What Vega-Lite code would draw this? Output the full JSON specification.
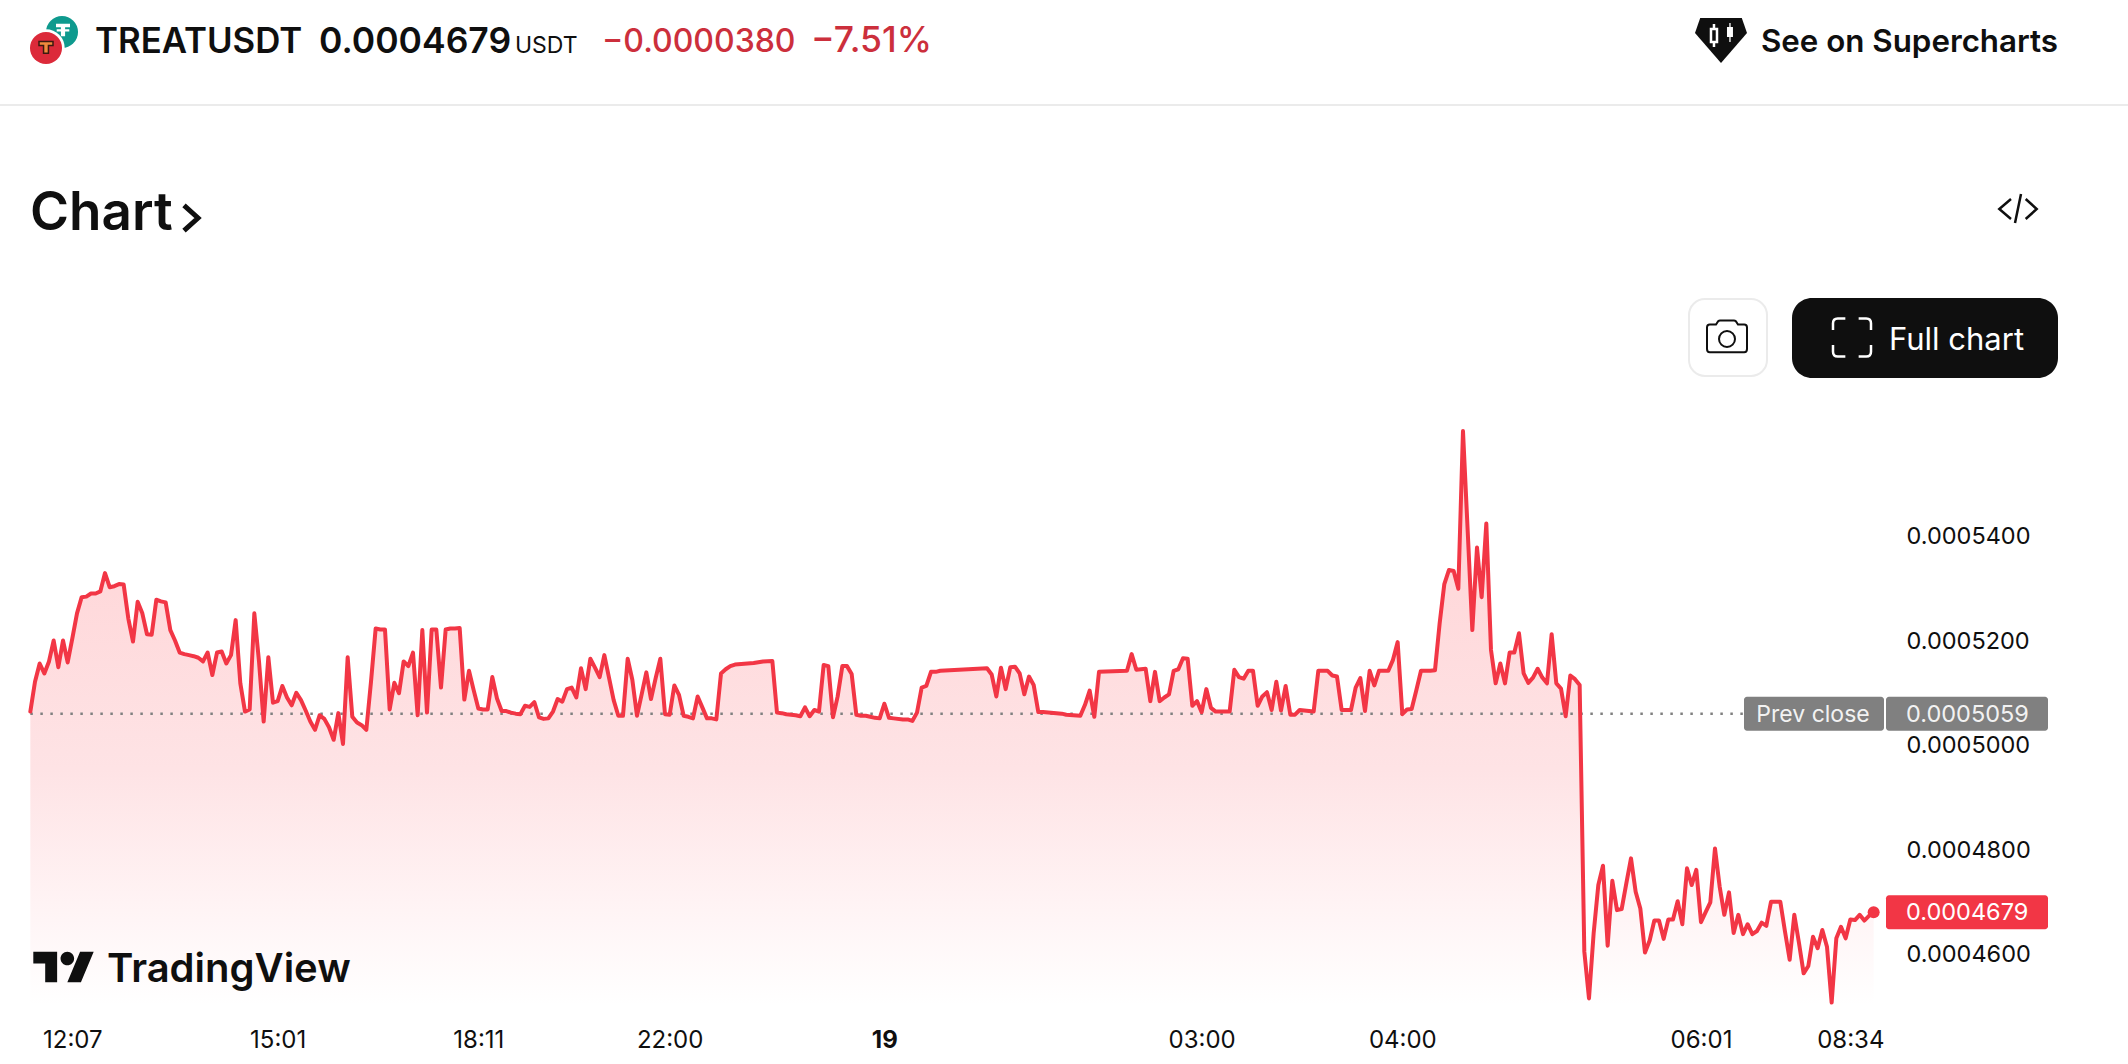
{"$schema":"https://vega.github.io/schema/vega-lite/v6.json","width":1880,"height":1005,"autosize":{"type":"none"},"padding":{"left":0,"top":0,"right":248,"bottom":59},"background":"#ffffff","view":{"stroke":null},"config":{"font":"Inter","text":{"font":"Inter"}},
"datasets":{"prices":[{"bar":0,"price":0.0005063},{"bar":1,"price":0.000512},{"bar":2,"price":0.0005155},{"bar":3,"price":0.0005136},{"bar":4,"price":0.0005159},{"bar":5,"price":0.0005199},{"bar":6,"price":0.0005148},{"bar":7,"price":0.0005199},{"bar":8,"price":0.0005157},{"bar":9,"price":0.0005203},{"bar":10,"price":0.0005251},{"bar":11,"price":0.0005282},{"bar":12,"price":0.0005283},{"bar":13,"price":0.0005289},{"bar":14,"price":0.0005289},{"bar":15,"price":0.0005293},{"bar":16,"price":0.0005328},{"bar":17,"price":0.0005301},{"bar":18,"price":0.0005303},{"bar":19,"price":0.0005307},{"bar":20,"price":0.0005306},{"bar":21,"price":0.0005241},{"bar":22,"price":0.0005197},{"bar":23,"price":0.0005273},{"bar":24,"price":0.0005251},{"bar":25,"price":0.0005211},{"bar":26,"price":0.000521},{"bar":27,"price":0.0005277},{"bar":28,"price":0.0005274},{"bar":29,"price":0.0005272},{"bar":30,"price":0.0005219},{"bar":31,"price":0.0005199},{"bar":32,"price":0.0005176},{"bar":33,"price":0.0005173},{"bar":34,"price":0.0005171},{"bar":35,"price":0.0005169},{"bar":36,"price":0.0005166},{"bar":37,"price":0.0005159},{"bar":38,"price":0.0005176},{"bar":39,"price":0.0005133},{"bar":40,"price":0.0005176},{"bar":41,"price":0.0005178},{"bar":42,"price":0.0005155},{"bar":43,"price":0.0005171},{"bar":44,"price":0.0005238},{"bar":45,"price":0.0005117},{"bar":46,"price":0.0005063},{"bar":47,"price":0.0005067},{"bar":48,"price":0.0005251},{"bar":49,"price":0.0005159},{"bar":50,"price":0.0005044},{"bar":51,"price":0.0005167},{"bar":52,"price":0.000508},{"bar":53,"price":0.0005083},{"bar":54,"price":0.0005112},{"bar":55,"price":0.000509},{"bar":56,"price":0.0005075},{"bar":57,"price":0.0005099},{"bar":58,"price":0.0005085},{"bar":59,"price":0.0005065},{"bar":60,"price":0.0005044},{"bar":61,"price":0.0005028},{"bar":62,"price":0.0005056},{"bar":63,"price":0.0005049},{"bar":64,"price":0.0005033},{"bar":65,"price":0.0005009},{"bar":66,"price":0.000506},{"bar":67,"price":0.0005001},{"bar":68,"price":0.0005167},{"bar":69,"price":0.0005053},{"bar":70,"price":0.0005042},{"bar":71,"price":0.0005037},{"bar":72,"price":0.0005028},{"bar":73,"price":0.000512},{"bar":74,"price":0.0005222},{"bar":75,"price":0.000522},{"bar":76,"price":0.000522},{"bar":77,"price":0.0005067},{"bar":78,"price":0.0005118},{"bar":79,"price":0.0005098},{"bar":80,"price":0.0005159},{"bar":81,"price":0.000515},{"bar":82,"price":0.0005176},{"bar":83,"price":0.0005056},{"bar":84,"price":0.0005219},{"bar":85,"price":0.0005061},{"bar":86,"price":0.000522},{"bar":87,"price":0.000522},{"bar":88,"price":0.0005109},{"bar":89,"price":0.000522},{"bar":90,"price":0.0005222},{"bar":91,"price":0.0005222},{"bar":92,"price":0.0005223},{"bar":93,"price":0.0005086},{"bar":94,"price":0.0005141},{"bar":95,"price":0.0005104},{"bar":96,"price":0.0005069},{"bar":97,"price":0.0005067},{"bar":98,"price":0.0005067},{"bar":99,"price":0.0005129},{"bar":100,"price":0.0005088},{"bar":101,"price":0.0005064},{"bar":102,"price":0.0005064},{"bar":103,"price":0.0005061},{"bar":104,"price":0.0005059},{"bar":105,"price":0.0005058},{"bar":106,"price":0.0005074},{"bar":107,"price":0.0005072},{"bar":108,"price":0.0005081},{"bar":109,"price":0.0005052},{"bar":110,"price":0.0005049},{"bar":111,"price":0.000505},{"bar":112,"price":0.0005063},{"bar":113,"price":0.0005087},{"bar":114,"price":0.0005082},{"bar":115,"price":0.0005106},{"bar":116,"price":0.0005109},{"bar":117,"price":0.000509},{"bar":118,"price":0.0005146},{"bar":119,"price":0.0005106},{"bar":120,"price":0.0005164},{"bar":121,"price":0.0005147},{"bar":122,"price":0.0005129},{"bar":123,"price":0.0005171},{"bar":124,"price":0.0005128},{"bar":125,"price":0.0005085},{"bar":126,"price":0.0005055},{"bar":127,"price":0.0005055},{"bar":128,"price":0.0005164},{"bar":129,"price":0.0005124},{"bar":130,"price":0.0005055},{"bar":131,"price":0.0005096},{"bar":132,"price":0.0005138},{"bar":133,"price":0.0005087},{"bar":134,"price":0.0005127},{"bar":135,"price":0.0005164},{"bar":136,"price":0.0005058},{"bar":137,"price":0.0005057},{"bar":138,"price":0.0005113},{"bar":139,"price":0.0005095},{"bar":140,"price":0.0005055},{"bar":141,"price":0.0005053},{"bar":142,"price":0.000505},{"bar":143,"price":0.0005092},{"bar":144,"price":0.0005071},{"bar":145,"price":0.000505},{"bar":146,"price":0.000505},{"bar":147,"price":0.0005048},{"bar":148,"price":0.0005136},{"bar":149,"price":0.0005144},{"bar":150,"price":0.000515},{"bar":151,"price":0.0005153},{"bar":155,"price":0.0005156},{"bar":157,"price":0.0005159},{"bar":159,"price":0.000516},{"bar":160,"price":0.0005061},{"bar":161,"price":0.000506},{"bar":162,"price":0.0005058},{"bar":163,"price":0.0005057},{"bar":164,"price":0.0005056},{"bar":165,"price":0.0005054},{"bar":166,"price":0.0005071},{"bar":167,"price":0.0005054},{"bar":168,"price":0.0005066},{"bar":169,"price":0.0005063},{"bar":170,"price":0.0005152},{"bar":171,"price":0.000515},{"bar":172,"price":0.0005052},{"bar":173,"price":0.0005092},{"bar":174,"price":0.000515},{"bar":175,"price":0.000515},{"bar":176,"price":0.0005135},{"bar":177,"price":0.0005057},{"bar":178,"price":0.0005055},{"bar":179,"price":0.0005055},{"bar":180,"price":0.0005053},{"bar":181,"price":0.0005051},{"bar":182,"price":0.000505},{"bar":183,"price":0.0005078},{"bar":184,"price":0.0005051},{"bar":185,"price":0.000505},{"bar":187,"price":0.0005048},{"bar":188,"price":0.0005048},{"bar":189,"price":0.0005045},{"bar":190,"price":0.0005061},{"bar":191,"price":0.0005109},{"bar":192,"price":0.0005112},{"bar":193,"price":0.0005139},{"bar":194,"price":0.0005139},{"bar":195,"price":0.0005141},{"bar":199,"price":0.0005143},{"bar":205,"price":0.0005146},{"bar":206,"price":0.0005134},{"bar":207,"price":0.0005092},{"bar":208,"price":0.0005147},{"bar":209,"price":0.0005106},{"bar":210,"price":0.0005148},{"bar":211,"price":0.0005149},{"bar":212,"price":0.0005136},{"bar":213,"price":0.0005096},{"bar":214,"price":0.000513},{"bar":215,"price":0.0005114},{"bar":216,"price":0.0005062},{"bar":217,"price":0.0005062},{"bar":221,"price":0.0005059},{"bar":222,"price":0.0005057},{"bar":225,"price":0.0005055},{"bar":226,"price":0.0005076},{"bar":227,"price":0.0005103},{"bar":228,"price":0.0005053},{"bar":229,"price":0.0005139},{"bar":232,"price":0.000514},{"bar":235,"price":0.0005141},{"bar":236,"price":0.0005173},{"bar":237,"price":0.0005143},{"bar":238,"price":0.0005144},{"bar":239,"price":0.0005145},{"bar":240,"price":0.0005083},{"bar":241,"price":0.0005139},{"bar":242,"price":0.0005083},{"bar":243,"price":0.000509},{"bar":244,"price":0.0005096},{"bar":245,"price":0.0005141},{"bar":246,"price":0.0005144},{"bar":247,"price":0.0005165},{"bar":248,"price":0.0005164},{"bar":249,"price":0.0005074},{"bar":250,"price":0.0005083},{"bar":251,"price":0.0005062},{"bar":252,"price":0.0005106},{"bar":253,"price":0.000507},{"bar":254,"price":0.0005063},{"bar":255,"price":0.0005063},{"bar":256,"price":0.0005063},{"bar":257,"price":0.0005063},{"bar":258,"price":0.0005143},{"bar":259,"price":0.0005129},{"bar":260,"price":0.0005126},{"bar":261,"price":0.0005141},{"bar":262,"price":0.0005141},{"bar":263,"price":0.0005074},{"bar":264,"price":0.0005092},{"bar":265,"price":0.00051},{"bar":266,"price":0.0005066},{"bar":267,"price":0.000512},{"bar":268,"price":0.0005065},{"bar":269,"price":0.0005112},{"bar":270,"price":0.0005057},{"bar":271,"price":0.0005057},{"bar":272,"price":0.0005066},{"bar":273,"price":0.0005065},{"bar":274,"price":0.0005064},{"bar":275,"price":0.0005063},{"bar":276,"price":0.0005141},{"bar":277,"price":0.0005141},{"bar":278,"price":0.0005141},{"bar":279,"price":0.0005132},{"bar":280,"price":0.000513},{"bar":281,"price":0.0005066},{"bar":282,"price":0.0005066},{"bar":283,"price":0.0005066},{"bar":284,"price":0.0005109},{"bar":285,"price":0.0005127},{"bar":286,"price":0.0005064},{"bar":287,"price":0.0005141},{"bar":288,"price":0.0005113},{"bar":289,"price":0.0005141},{"bar":290,"price":0.0005141},{"bar":291,"price":0.0005141},{"bar":292,"price":0.0005162},{"bar":293,"price":0.0005196},{"bar":294,"price":0.0005058},{"bar":295,"price":0.0005067},{"bar":296,"price":0.0005068},{"bar":297,"price":0.0005104},{"bar":298,"price":0.0005141},{"bar":299,"price":0.0005141},{"bar":300,"price":0.0005141},{"bar":301,"price":0.0005142},{"bar":302,"price":0.0005232},{"bar":303,"price":0.0005307},{"bar":304,"price":0.0005334},{"bar":305,"price":0.0005332},{"bar":306,"price":0.0005298},{"bar":307,"price":0.00056},{"bar":308,"price":0.000541},{"bar":309,"price":0.0005219},{"bar":310,"price":0.0005377},{"bar":311,"price":0.0005282},{"bar":312,"price":0.0005423},{"bar":313,"price":0.0005181},{"bar":314,"price":0.0005117},{"bar":315,"price":0.0005155},{"bar":316,"price":0.0005117},{"bar":317,"price":0.0005176},{"bar":318,"price":0.0005176},{"bar":319,"price":0.0005213},{"bar":320,"price":0.0005136},{"bar":321,"price":0.0005118},{"bar":322,"price":0.0005128},{"bar":323,"price":0.0005145},{"bar":324,"price":0.0005128},{"bar":325,"price":0.0005117},{"bar":326,"price":0.0005211},{"bar":327,"price":0.0005117},{"bar":328,"price":0.0005107},{"bar":329,"price":0.0005054},{"bar":330,"price":0.0005132},{"bar":331,"price":0.0005125},{"bar":332,"price":0.0005114},{"bar":333,"price":0.00046035},{"bar":334,"price":0.0004514},{"bar":335,"price":0.0004639},{"bar":336,"price":0.0004731},{"bar":337,"price":0.0004768},{"bar":338,"price":0.0004615},{"bar":339,"price":0.0004739},{"bar":340,"price":0.0004683},{"bar":341,"price":0.0004685},{"bar":342,"price":0.0004734},{"bar":343,"price":0.0004782},{"bar":344,"price":0.0004718},{"bar":345,"price":0.0004686},{"bar":346,"price":0.0004602},{"bar":347,"price":0.0004625},{"bar":348,"price":0.0004663},{"bar":349,"price":0.0004663},{"bar":350,"price":0.0004628},{"bar":351,"price":0.0004665},{"bar":352,"price":0.0004665},{"bar":353,"price":0.00047},{"bar":354,"price":0.0004656},{"bar":355,"price":0.0004763},{"bar":356,"price":0.0004731},{"bar":357,"price":0.000476},{"bar":358,"price":0.000466},{"bar":359,"price":0.0004679},{"bar":360,"price":0.0004698},{"bar":361,"price":0.0004801},{"bar":362,"price":0.0004728},{"bar":363,"price":0.0004674},{"bar":364,"price":0.0004717},{"bar":365,"price":0.0004639},{"bar":366,"price":0.0004674},{"bar":367,"price":0.0004637},{"bar":368,"price":0.0004656},{"bar":369,"price":0.0004637},{"bar":370,"price":0.0004643},{"bar":371,"price":0.0004659},{"bar":372,"price":0.0004653},{"bar":373,"price":0.0004699},{"bar":374,"price":0.0004699},{"bar":375,"price":0.0004699},{"bar":376,"price":0.0004642},{"bar":377,"price":0.0004588},{"bar":378,"price":0.0004674},{"bar":379,"price":0.000462},{"bar":380,"price":0.0004562},{"bar":381,"price":0.0004576},{"bar":382,"price":0.0004632},{"bar":383,"price":0.000461},{"bar":384,"price":0.0004645},{"bar":385,"price":0.0004613},{"bar":386,"price":0.0004506},{"bar":387,"price":0.0004629},{"bar":388,"price":0.0004651},{"bar":389,"price":0.0004629},{"bar":390,"price":0.0004665},{"bar":391,"price":0.0004664},{"bar":392,"price":0.0004674},{"bar":393,"price":0.0004663},{"bar":394,"price":0.0004672},{"bar":395,"price":0.0004679}]},
"layer":[
{"encoding":{"x":{"field":"bar","type":"quantitative","scale":{"domain":[-6.5,396.36],"nice":false,"zero":false},"axis":{"title":null,"grid":false,"domain":false,"ticks":false,"values":[9,53,96,137,183,251,294,358,390],"labelExpr":"{'9':'12:07','53':'15:01','96':'18:11','137':'22:00','183':'19','251':'03:00','294':'04:00','358':'06:01','390':'08:34'}[datum.value]","labelFont":"Inter","labelFontSize":24,"labelColor":"#0f0f0f","labelPadding":23,"labelOverlap":false,"labelBound":false,"labelFlush":false,"labelFontWeight":{"condition":{"test":"datum.value===183","value":700},"value":400}}},"y":{"field":"price","type":"quantitative","scale":{"domain":[0.00045014,0.00064249],"nice":false,"zero":false},"axis":{"title":null,"orient":"right","grid":false,"domain":false,"ticks":false,"values":[0.00046,0.00048,0.0005,0.00052,0.00054],"format":".7f","labelFont":"Inter","labelFontSize":23.5,"labelColor":"#0f0f0f","labelPadding":26,"labelOffset":1.5,"labelOverlap":false,"labelBound":false}}},
"layer":[
{"data":{"name":"prices"},"mark":{"type":"area","interpolate":"linear","clip":false,"color":{"gradient":"linear","x1":0,"y1":0,"x2":0,"y2":1,"stops":[{"offset":0,"color":"#ffd0d3"},{"offset":0.25,"color":"#ffd8da"},{"offset":0.59,"color":"#fee3e5"},{"offset":0.82,"color":"#fff3f4"},{"offset":1,"color":"#ffffff"}]}},"encoding":{"y2":{"datum":0.00045014}}},
{"data":{"values":[{"bar":0,"barEnd":367,"price":0.0005059}]},"mark":{"type":"rule","color":"#808080","strokeWidth":2.5,"strokeDash":[2.5,7.5]},"encoding":{"x2":{"field":"barEnd"}}},
{"data":{"name":"prices"},"mark":{"type":"line","interpolate":"linear","color":"#f23645","strokeWidth":4,"strokeJoin":"round","strokeCap":"round"}},
{"data":{"values":[{"bar":395,"price":0.0004679}]},"mark":{"type":"point","shape":"circle","filled":true,"opacity":1,"color":"#f23645","size":144}},
{"data":{"values":[{"price":0.00050915,"lo":0.00050265}]},"mark":{"type":"rect","color":"#808080","cornerRadius":3},"encoding":{"x":{"value":1744},"x2":{"value":1884},"y2":{"field":"lo"}}},
{"data":{"values":[{"price":0.00050915,"lo":0.00050265}]},"mark":{"type":"rect","color":"#808080","cornerRadius":3},"encoding":{"x":{"value":1886},"x2":{"value":2048},"y2":{"field":"lo"}}},
{"data":{"values":[{"price":0.00047115,"lo":0.00046465}]},"mark":{"type":"rect","color":"#f23645","cornerRadius":3},"encoding":{"x":{"value":1886},"x2":{"value":2048},"y2":{"field":"lo"}}},
{"data":{"values":[{"price":0.0005059,"label":"Prev close"}]},"mark":{"type":"text","align":"center","baseline":"middle","dy":1,"fontSize":23,"color":"#ffffff","opacity":0.9},"encoding":{"x":{"value":1813},"text":{"field":"label"}}},
{"data":{"values":[{"price":0.0005059,"label":"0.0005059"}]},"mark":{"type":"text","align":"left","baseline":"middle","dy":1,"fontSize":23.5,"color":"#ffffff","opacity":0.9},"encoding":{"x":{"value":1906},"text":{"field":"label"}}},
{"data":{"values":[{"price":0.0004679,"label":"0.0004679"}]},"mark":{"type":"text","align":"left","baseline":"middle","dy":1,"fontSize":23.5,"color":"#ffffff"},"encoding":{"x":{"value":1906},"text":{"field":"label"}}}
]},
{"data":{"values":[{"n":1}]},"mark":{"type":"rect","color":"#ebebeb","x":0,"x2":2128,"y":104,"y2":106}},
{"data":{"values":[{"n":1}]},"mark":{"type":"point","shape":"circle","filled":true,"opacity":1,"color":"#0e9a8e","size":1024,"x":62,"y":32}},
{"data":{"values":[{"n":1}]},"mark":{"type":"point","shape":"M-1 -0.9H1V-0.4H0.3V-0.1H0.9V0.2H0.3V0.9H-0.3V0.2H-0.9V-0.1H-0.3V-0.4H-1Z","filled":true,"opacity":1,"color":"#ffffff","size":196,"x":63,"y":30}},
{"data":{"values":[{"n":1}]},"mark":{"type":"point","shape":"circle","filled":true,"opacity":1,"color":"#ffffff","size":1400,"x":46,"y":48}},
{"data":{"values":[{"n":1}]},"mark":{"type":"point","shape":"circle","filled":true,"opacity":1,"color":"#dc2a3a","size":1024,"x":46,"y":48}},
{"data":{"values":[{"n":1}]},"mark":{"type":"point","shape":"M-1 -0.8H1V-0.2H0.35V0.9H-0.35V-0.2H-1Z","filled":true,"opacity":1,"color":"#f08a3c","stroke":"#3b1a10","strokeWidth":1.5,"size":196,"x":46,"y":47}},
{"data":{"values":[{"label":"TREATUSDT"}]},"mark":{"type":"text","align":"left","baseline":"alphabetic","x":95,"y":53,"fontSize":34.8,"fontWeight":600,"color":"#0f0f0f"},"encoding":{"text":{"field":"label"}}},
{"data":{"values":[{"label":"0.0004679"}]},"mark":{"type":"text","align":"left","baseline":"alphabetic","x":319,"y":53,"fontSize":35.5,"fontWeight":600,"color":"#0f0f0f"},"encoding":{"text":{"field":"label"}}},
{"data":{"values":[{"label":"USDT"}]},"mark":{"type":"text","align":"left","baseline":"alphabetic","x":515,"y":53,"fontSize":23,"fontWeight":400,"color":"#0f0f0f"},"encoding":{"text":{"field":"label"}}},
{"data":{"values":[{"label":"−0.0000380"}]},"mark":{"type":"text","align":"left","baseline":"alphabetic","x":602,"y":52,"fontSize":32,"fontWeight":500,"color":"#cc2f3c"},"encoding":{"text":{"field":"label"}}},
{"data":{"values":[{"label":"−7.51%"}]},"mark":{"type":"text","align":"left","baseline":"alphabetic","x":811,"y":52,"fontSize":35.5,"fontWeight":500,"color":"#cc2f3c"},"encoding":{"text":{"field":"label"}}},
{"data":{"values":[{"label":"Chart"}]},"mark":{"type":"text","align":"left","baseline":"alphabetic","x":30,"y":230,"fontSize":53,"fontWeight":600,"color":"#0f0f0f"},"encoding":{"text":{"field":"label"}}},
{"data":{"values":[{"n":1}]},"mark":{"type":"point","shape":"M-0.5 -0.9L0.5 0L-0.5 0.9","filled":false,"opacity":1,"color":"#0f0f0f","strokeWidth":5,"size":784,"x":191,"y":218}},
{"data":{"values":[{"n":1}]},"mark":{"type":"point","shape":"M-0.8 -0.865H0.8L1 -0.29L0 0.865L-1 -0.29Z","filled":true,"opacity":1,"color":"#0f0f0f","size":2704,"x":1721,"y":40.5}},
{"data":{"values":[{"n":1}]},"mark":{"type":"point","shape":"M-0.27 -0.635V-0.442M-0.385 -0.442H-0.154V0.058H-0.385ZM-0.27 0.058V0.25","filled":false,"opacity":1,"color":"#ffffff","strokeWidth":2.5,"size":2704,"x":1721,"y":40.5}},
{"data":{"values":[{"n":1}]},"mark":{"type":"point","shape":"M0.32 -0.67H0.37V0.058H0.32ZM0.23 -0.52H0.46V-0.135H0.23Z","filled":true,"opacity":1,"color":"#ffffff","size":2704,"x":1721,"y":40.5}},
{"data":{"values":[{"label":"See on Supercharts"}]},"mark":{"type":"text","align":"left","baseline":"alphabetic","x":1761,"y":52,"fontSize":31.3,"fontWeight":600,"color":"#0f0f0f"},"encoding":{"text":{"field":"label"}}},
{"data":{"values":[{"n":1}]},"mark":{"type":"point","shape":"M-0.35 -0.475L-0.935 0.025L-0.35 0.525M0.385 -0.475L0.935 0.025L0.385 0.525M0.15 -0.725L-0.15 0.725","filled":false,"opacity":1,"color":"#0f0f0f","strokeWidth":2.5,"size":1600,"x":2018,"y":208.5}},
{"data":{"values":[{"n":1}]},"mark":{"type":"rect","fill":"#ffffff","stroke":"#ebebeb","strokeWidth":2,"cornerRadius":16,"x":1689,"x2":1767,"y":299,"y2":376}},
{"data":{"values":[{"n":1}]},"mark":{"type":"point","shape":"M-0.86 -0.62H-0.55L-0.45 -0.78Q-0.4 -0.82 -0.35 -0.82H0.35Q0.4 -0.82 0.45 -0.78L0.55 -0.62H0.86Q1 -0.62 1 -0.48V0.6Q1 0.76 0.86 0.76H-0.86Q-1 0.76 -1 0.6V-0.48Q-1 -0.62 -0.86 -0.62ZM-0.4 0.1a0.4 0.4 0 1 0 0.8 0a0.4 0.4 0 1 0 -0.8 0","filled":false,"opacity":1,"color":"#0f0f0f","strokeWidth":2,"size":1600,"x":1727,"y":337}},
{"data":{"values":[{"n":1}]},"mark":{"type":"rect","color":"#0f0f0f","cornerRadius":20,"x":1792,"x2":2058,"y":298,"y2":378}},
{"data":{"values":[{"n":1}]},"mark":{"type":"point","shape":"M-1 -0.4V-0.75Q-1 -1 -0.75 -1H-0.35M0.35 -1H0.75Q1 -1 1 -0.75V-0.4M1 0.4V0.75Q1 1 0.75 1H0.35M-0.35 1H-0.75Q-1 1 -1 0.75V0.4","filled":false,"opacity":1,"color":"#ffffff","strokeWidth":2.5,"size":1444,"x":1852,"y":337.5}},
{"data":{"values":[{"label":"Full chart"}]},"mark":{"type":"text","align":"left","baseline":"alphabetic","x":1889,"y":350,"fontSize":31,"fontWeight":400,"color":"#ffffff"},"encoding":{"text":{"field":"label"}}},
{"data":{"values":[{"n":1}]},"mark":{"type":"point","shape":"M-0.211 0.507H-0.606V-0.113H-1V-0.507H-0.211ZM0.577 0.507H0.127L0.549 -0.507H1ZM-0.098 -0.282a0.225 0.225 0 1 0 0.45 0a0.225 0.225 0 1 0 -0.45 0","filled":true,"opacity":1,"color":"#0f0f0f","size":3648,"x":63.5,"y":967}},
{"data":{"values":[{"label":"TradingView"}]},"mark":{"type":"text","align":"left","baseline":"alphabetic","x":107,"y":982,"fontSize":40,"fontWeight":600,"color":"#0f0f0f"},"encoding":{"text":{"field":"label"}}}
]}
